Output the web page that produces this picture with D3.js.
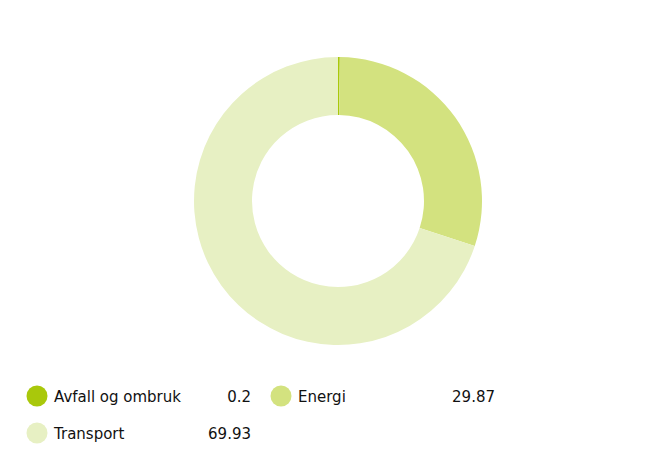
<!DOCTYPE html>
<html><head><meta charset="utf-8">
<script src="https://cdn.jsdelivr.net/npm/d3@7"></script>
<style>body{margin:0;background:#fff}svg{display:block}</style>
</head><body>
<svg id="c" width="655" height="462"></svg>
<script>
const categories = ["Avfall og ombruk", "Energi", "Transport"];
const values = [0.2, 29.87, 69.93];
const labels = ["0.2", "29.87", "69.93"];
const colors = ["#a9c80b", "#d3e27f", "#e7f0c3"];

const svg = d3.select("#c");
const cx = 338, cy = 201, rOut = 144, rIn = 86;
const data = categories.map((c, i) => ({name: c, value: values[i], label: labels[i], color: colors[i]}));
const pie = d3.pie().sort(null).value(d => d.value);
const arc = d3.arc().innerRadius(rIn).outerRadius(rOut);
const g = svg.append("g").attr("transform", `translate(${cx},${cy})`);
g.selectAll("path").data(pie(data)).join("path")
  .attr("d", arc).attr("fill", d => d.data.color);

// legend: 2 columns
const colX = [37, 281], rowY = [396, 433], valRight = [251, 495];
const lg = svg.append("g").attr("font-family", "DejaVu Sans, Verdana, sans-serif").attr("font-size", 15).attr("fill", "#111");
data.forEach((d, i) => {
  const col = i % 2, row = Math.floor(i / 2);
  const x = colX[col], y = rowY[row];
  lg.append("circle").attr("cx", x).attr("cy", y).attr("r", 10.5).attr("fill", d.color);
  lg.append("text").attr("x", x + 17).attr("y", y + 6).text(d.name);
  lg.append("text").attr("x", valRight[col]).attr("y", y + 6).attr("text-anchor", "end").text(d.label);
});
</script>
</body></html>
